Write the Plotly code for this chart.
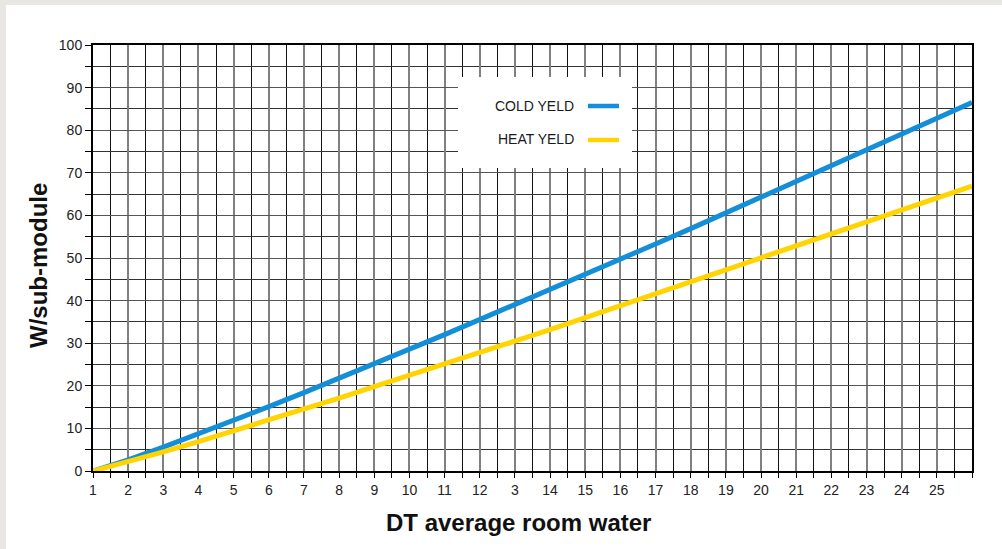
import plotly.graph_objects as go

# ---- data ----
dt_values = list(range(1, 27))
cold_yeld = [0, 2.6, 5.6, 8.7, 11.8, 15.1, 18.4, 21.7, 25.1, 28.6, 32.0, 35.5, 39.0,
             42.5, 46.1, 49.7, 53.3, 56.9, 60.6, 64.2, 67.9, 71.6, 75.3, 79.0, 82.7, 86.5]
heat_yeld = [0, 2.1, 4.5, 6.9, 9.4, 12.0, 14.5, 17.1, 19.8, 22.4, 25.1, 27.8, 30.5,
             33.2, 36.0, 38.7, 41.5, 44.3, 47.1, 49.8, 52.6, 55.5, 58.3, 61.1, 64.0, 66.9]
x_tick_vals = list(range(1, 26))
x_tick_text = ["1", "2", "3", "4", "5", "6", "7", "8", "9", "10", "11", "12", "3",
               "14", "15", "16", "17", "18", "19", "20", "21", "22", "23", "24", "25"]
y_tick_vals = list(range(0, 101, 10))
series_names = ["COLD YELD", "HEAT YELD"]
series_colors = ["#128fd8", "#ffd400"]

# ---- geometry helpers (pixel -> paper) ----
L, R, T, B = 93, 972, 45, 471
W, H = 1002, 549
def px(x):
    return (x - L) / (R - L)
def py(y):
    return (B - y) / (B - T)

FONT = "Liberation Sans, Arial, Helvetica, sans-serif"

fig = go.Figure()
fig.add_trace(go.Scatter(x=dt_values, y=cold_yeld, mode="lines", name=series_names[0],
                         line=dict(color=series_colors[0], width=5), showlegend=False))
fig.add_trace(go.Scatter(x=dt_values, y=heat_yeld, mode="lines", name=series_names[1],
                         line=dict(color=series_colors[1], width=5), showlegend=False))

shapes = [
    # white panel on grey page
    dict(type="rect", xref="paper", yref="paper", x0=px(6), x1=px(W + 5), y0=py(5), y1=py(H + 5),
         fillcolor="white", line=dict(width=0), layer="below"),
    # legend box
    dict(type="rect", xref="paper", yref="paper", x0=px(458), x1=px(632), y0=py(168), y1=py(77),
         fillcolor="white", line=dict(width=0), layer="above"),
    dict(type="line", xref="paper", yref="paper", x0=px(588), x1=px(619), y0=py(106), y1=py(106),
         line=dict(color=series_colors[0], width=4.5), layer="above"),
    dict(type="line", xref="paper", yref="paper", x0=px(588), x1=px(619), y0=py(140), y1=py(140),
         line=dict(color=series_colors[1], width=4.5), layer="above"),
]

annotations = [
    dict(text=series_names[0], xref="paper", yref="paper", x=px(576), y=py(106),
         xanchor="right", yanchor="middle", showarrow=False,
         font=dict(family=FONT, size=14, color="#1a1a1a")),
    dict(text=series_names[1], xref="paper", yref="paper", x=px(576), y=py(139),
         xanchor="right", yanchor="middle", showarrow=False,
         font=dict(family=FONT, size=14, color="#1a1a1a")),
    dict(text="<b>DT average room water</b>", xref="paper", yref="paper", x=px(518), y=py(522),
         xanchor="center", yanchor="middle", showarrow=False,
         font=dict(family=FONT, size=24, color="#111")),
    dict(text="<b>W/sub-module</b>", xref="paper", yref="paper", x=px(38), y=py(266),
         xanchor="center", yanchor="middle", showarrow=False, textangle=-90,
         font=dict(family=FONT, size=24, color="#111")),
]

fig.update_layout(
    width=W, height=H,
    margin=dict(l=L, r=W - R, t=T, b=H - B),
    paper_bgcolor="#e9e7e4",
    plot_bgcolor="white",
    font=dict(family=FONT, size=14, color="#222"),
    shapes=shapes,
    annotations=annotations,
    showlegend=False,
)

fig.update_xaxes(
    range=[1, 26], tickmode="array", tickvals=x_tick_vals, ticktext=x_tick_text,
    ticks="outside", ticklen=5, tickwidth=1, tickcolor="black",
    showgrid=True, gridcolor="#808080", gridwidth=1.5,
    minor=dict(tick0=1, dtick=0.5, ticks="outside", ticklen=5, tickcolor="black", tickwidth=1,
               showgrid=True, gridcolor="#111", gridwidth=1),
    showline=True, linecolor="black", linewidth=2, mirror=True, zeroline=False,
    tickfont=dict(family=FONT, size=14, color="#222"),
)
fig.update_yaxes(
    range=[0, 100], tickmode="array", tickvals=y_tick_vals,
    ticks="outside", ticklen=6, tickwidth=1, tickcolor="black",
    showgrid=True, gridcolor="#555", gridwidth=1.3,
    minor=dict(tick0=0, dtick=5, ticks="outside", ticklen=6, tickcolor="black", tickwidth=1,
               showgrid=True, gridcolor="#333", gridwidth=1.2),
    showline=True, linecolor="black", linewidth=2, mirror=True, zeroline=False,
    tickfont=dict(family=FONT, size=14, color="#222"),
)

fig.write_html(
    "out.html",
    config={"displayModeBar": False},
    post_script="document.body.style.margin='0';document.body.style.padding='0';"
                "document.documentElement.style.background='#e9e7e4';",
)
